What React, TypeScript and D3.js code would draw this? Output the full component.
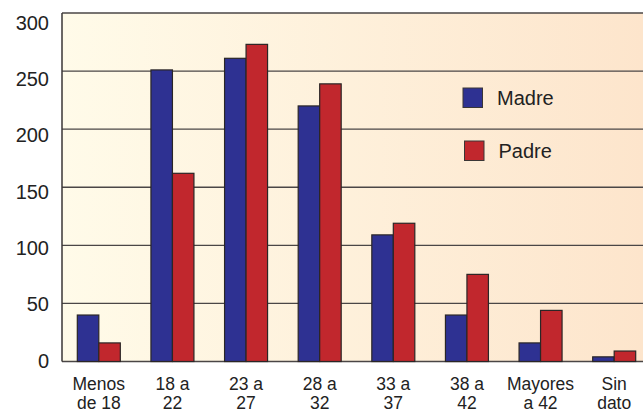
import React from 'react';
import * as d3 from 'd3';

const categories = [
  ['Menos', 'de 18'],
  ['18 a', '22'],
  ['23 a', '27'],
  ['28 a', '32'],
  ['33 a', '37'],
  ['38 a', '42'],
  ['Mayores', 'a 42'],
  ['Sin', 'dato'],
];
const madre = [40, 251, 261, 220, 109, 40, 16, 4];
const padre = [16, 162, 273, 239, 119, 75, 44, 9];
const yTicks = [0, 50, 100, 150, 200, 250, 300];
const seriesNames = ['Madre', 'Padre'];

const W = 643;
const H = 411;
const left = 62;
const top = 13;
const bottom = 361.5;
const colors = ['#2e3192', '#c1272d'];
const font = 'Liberation Sans, Arial, Helvetica, sans-serif';

export default function App() {
  const keys = categories.map((c) => c.join(' '));
  const x = d3.scaleBand().domain(keys).range([left, 651]).padding(0);
  const y = d3.scaleLinear().domain([0, 300]).range([bottom, top]);
  // tick labels in the original sit on a slightly tighter spacing than the grid
  const yLabel = d3.scaleLinear().domain([0, 300]).range([360.5, 22.5]);
  const barW = 21.5;
  const series = [madre, padre];

  return (
    <div style={{ position: 'absolute', left: 0, top: 0 }}>
      <svg width={W} height={H} style={{ display: 'block', background: '#fff' }}>
        <defs>
          <linearGradient id="bg" x1="0" y1="0" x2="1" y2="0">
            <stop offset="0%" stopColor="#fffbe9" />
            <stop offset="100%" stopColor="#fde5cc" />
          </linearGradient>
        </defs>
        <rect x={left} y={top} width={W - left} height={bottom - top} fill="url(#bg)" />
        {yTicks.map((t) => (
          <line key={t} x1={left} x2={W} y1={y(t)} y2={y(t)} stroke="#4a4646" strokeWidth={1.3} />
        ))}
        <line x1={left} x2={left} y1={top} y2={bottom} stroke="#3a3636" strokeWidth={1.5} />
        {series.map((vals, si) =>
          vals.map((v, i) => {
            const cx = (x(keys[i]) as number) + x.bandwidth() / 2;
            return (
              <rect
                key={`${si}-${i}`}
                x={cx - barW + si * barW}
                y={y(v)}
                width={barW}
                height={bottom - y(v)}
                fill={colors[si]}
                stroke="#2a2626"
                strokeWidth={1.2}
              />
            );
          })
        )}
        {yTicks.map((t) => (
          <text
            key={t}
            x={49}
            y={yLabel(t)}
            dy="0.36em"
            textAnchor="end"
            fontFamily={font}
            fontSize={20}
            fill="#222"
          >
            {t}
          </text>
        ))}
        {categories.map((c, i) => {
          const cx = (x(keys[i]) as number) + x.bandwidth() / 2;
          return (
            <g key={keys[i]}>
              <text x={cx} y={390} textAnchor="middle" fontFamily={font} fontSize={17.5} fill="#222">
                {c[0]}
              </text>
              <text x={cx} y={408.5} textAnchor="middle" fontFamily={font} fontSize={17.5} fill="#222">
                {c[1]}
              </text>
            </g>
          );
        })}
        {seriesNames.map((name, si) => (
          <g key={name} transform={`translate(${463 + si * 1.5}, ${88 + si * 53})`}>
            <rect width={19.5} height={19.5} fill={colors[si]} stroke="#3a3636" strokeWidth={1} />
            <text x={34} y={17} fontFamily={font} fontSize={20} fill="#222">
              {name}
            </text>
          </g>
        ))}
      </svg>
    </div>
  );
}
